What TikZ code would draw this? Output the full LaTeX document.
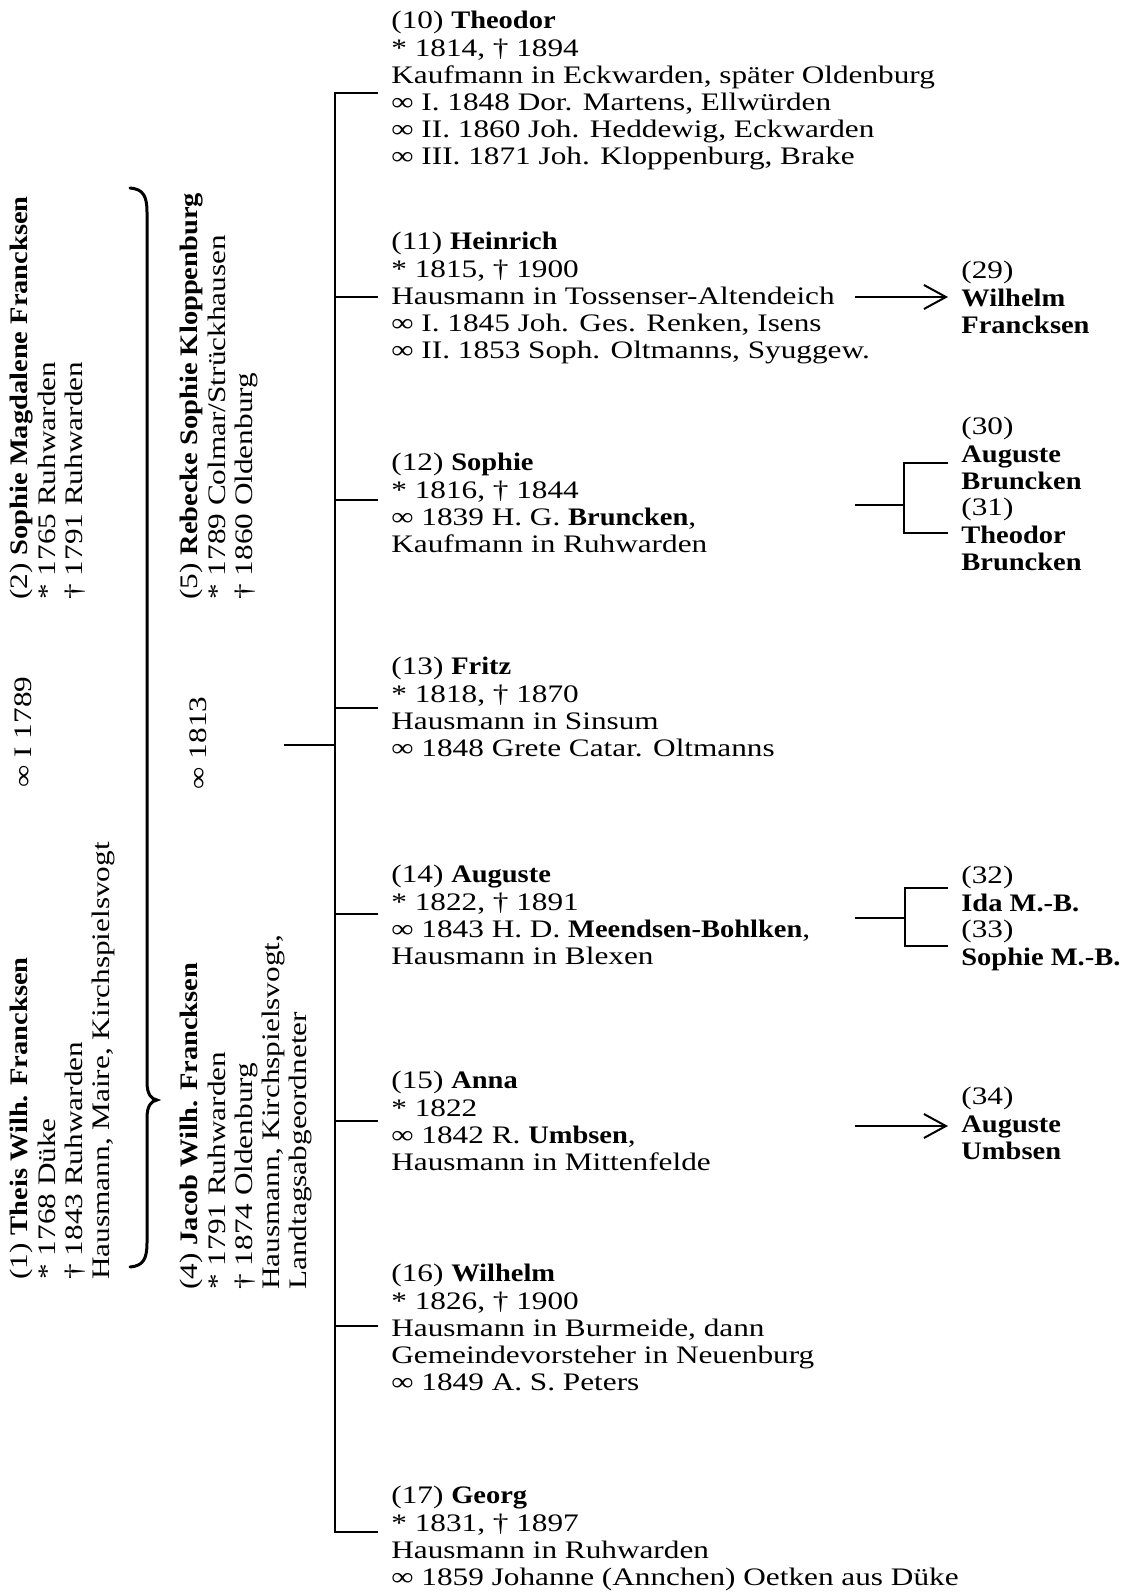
\documentclass[tikz,border=0pt]{standalone}
\usepackage{fontspec}
\setmainfont{Liberation Serif}[UprightFeatures={FakeStretch=1.24}, BoldFeatures={FakeStretch=1.13}]
\usetikzlibrary{arrows.meta}

\tikzset{
  person/.style={anchor=north west, inner sep=0pt, align=left},
  rotperson/.style={person, rotate=90},
  marriage/.style={inner sep=0pt, rotate=90},
  stem/.style={line width=1.25pt},
  twig/.style={line width=1pt},
  arr/.style={line width=1pt, -{Straight Barb[length=11pt, width=12pt, line width=1pt]}},
  bracestroke/.style={line width=1.5pt, line cap=round}
}

\begin{document}
\begin{tikzpicture}[x=0.5pt, y=-0.5pt, font=\fontsize{12.6}{13.6}\selectfont]
  \useasboundingbox (0,0) rectangle (1137,1593);

  % parents, rotated
  \node[rotperson] (n2) at (10,600) {(2) \textbf{Sophie Magdalene Francksen}\\ * 1765 Ruhwarden\\ † 1791 Ruhwarden};
  \node[marriage] (m1) at (23,732) {∞ I 1789};
  \node[rotperson] (n1) at (10,1280) {(1) \textbf{Theis Wilh. Francksen}\\ * 1768 Düke\\ † 1843 Ruhwarden\\ Hausmann, Maire, Kirchspielsvogt};

  \draw[bracestroke] (130,188) .. controls (143,189) and (147,196) .. (147,212)
    -- (147,1082) .. controls (147,1094) and (151,1099) .. (157,1100)
    .. controls (151,1101) and (147,1106) .. (147,1118)
    -- (147,1243) .. controls (147,1259) and (143,1266) .. (130,1267);

  \node[rotperson] (n5) at (180,600) {(5) \textbf{Rebecke Sophie Kloppenburg}\\ * 1789 Colmar/Strückhausen\\ † 1860 Oldenburg};
  \node[marriage] (m2) at (198,743) {∞ 1813};
  \node[rotperson] (n4) at (180,1290) {(4) \textbf{Jacob Wilh. Francksen}\\ * 1791 Ruhwarden\\ † 1874 Oldenburg\\ Hausmann, Kirchspielsvogt,\\ Landtagsabgeordneter};

  % children
  \node[person] (n10) at (391,11) {(10) \textbf{Theodor}\\ * 1814, † 1894\\ Kaufmann in Eckwarden, später Oldenburg\\ ∞ I. 1848 Dor. Martens, Ellwürden\\ ∞ II. 1860 Joh. Heddewig, Eckwarden\\ ∞ III. 1871 Joh. Kloppenburg, Brake};
  \node[person] (n11) at (391,232) {(11) \textbf{Heinrich}\\ * 1815, † 1900\\ Hausmann in Tossenser-Altendeich\\ ∞ I. 1845 Joh. Ges. Renken, Isens\\ ∞ II. 1853 Soph. Oltmanns, Syuggew.};
  \node[person] (n12) at (391,453) {(12) \textbf{Sophie}\\ * 1816, † 1844\\ ∞ 1839 H. G. \textbf{Bruncken},\\ Kaufmann in Ruhwarden};
  \node[person] (n13) at (391,657) {(13) \textbf{Fritz}\\ * 1818, † 1870\\ Hausmann in Sinsum\\ ∞ 1848 Grete Catar. Oltmanns};
  \node[person] (n14) at (391,865) {(14) \textbf{Auguste}\\ * 1822, † 1891\\ ∞ 1843 H. D. \textbf{Meendsen-Bohlken},\\ Hausmann in Blexen};
  \node[person] (n15) at (391,1071) {(15) \textbf{Anna}\\ * 1822\\ ∞ 1842 R. \textbf{Umbsen},\\ Hausmann in Mittenfelde};
  \node[person] (n16) at (391,1264) {(16) \textbf{Wilhelm}\\ * 1826, † 1900\\ Hausmann in Burmeide, dann\\ Gemeindevorsteher in Neuenburg\\ ∞ 1849 A. S. Peters};
  \node[person] (n17) at (391,1486) {(17) \textbf{Georg}\\ * 1831, † 1897\\ Hausmann in Ruhwarden\\ ∞ 1859 Johanne (Annchen) Oetken aus Düke};

  % grandchildren
  \node[person] (n29) at (961,261) {(29)\\ \textbf{Wilhelm}\\ \textbf{Francksen}};
  \node[person] (n30) at (961,417) {(30)\\ \textbf{Auguste}\\ \textbf{Bruncken}};
  \node[person] (n31) at (961,498) {(31)\\ \textbf{Theodor}\\ \textbf{Bruncken}};
  \node[person] (n32) at (961,866) {(32)\\ \textbf{Ida M.-B.}};
  \node[person] (n33) at (961,920) {(33)\\ \textbf{Sophie M.-B.}};
  \node[person] (n34) at (961,1087) {(34)\\ \textbf{Auguste}\\ \textbf{Umbsen}};

  % family line
  \coordinate (parents) at (284,745);
  \coordinate (trunk) at (335,745);
  \foreach \n/\y in {10/93, 11/297, 12/500, 13/708, 14/914, 15/1121, 16/1326, 17/1532}
    \coordinate (k\n) at (378,\y);
  \draw[twig] (parents) -- (trunk);
  \draw[stem] (k10) -- (k10 -| trunk) -- (k17 -| trunk) -- (k17);
  \foreach \n in {11,...,16}
    \draw[twig] (k\n -| trunk) -- (k\n);

  % lines to the grandchildren
  \coordinate (g11) at (855,297);
  \coordinate (g12) at (855,505);
  \coordinate (g14) at (855,918);
  \coordinate (g15) at (855,1126);
  \coordinate (fork12) at (904,505);
  \coordinate (fork14) at (905,918);
  \coordinate (k30) at (948,463);
  \coordinate (k31) at (948,533);
  \coordinate (k32) at (948,888);
  \coordinate (k33) at (948,946);
  \draw[arr] (g11) -- (g11 -| k30);
  \draw[arr] (g15) -- (g15 -| k30);
  \draw[twig] (g12) -- (fork12);
  \draw[twig] (k30) -- (k30 -| fork12) -- (k31 -| fork12) -- (k31);
  \draw[twig] (g14) -- (fork14);
  \draw[twig] (k32) -- (k32 -| fork14) -- (k33 -| fork14) -- (k33);
\end{tikzpicture}
\end{document}
